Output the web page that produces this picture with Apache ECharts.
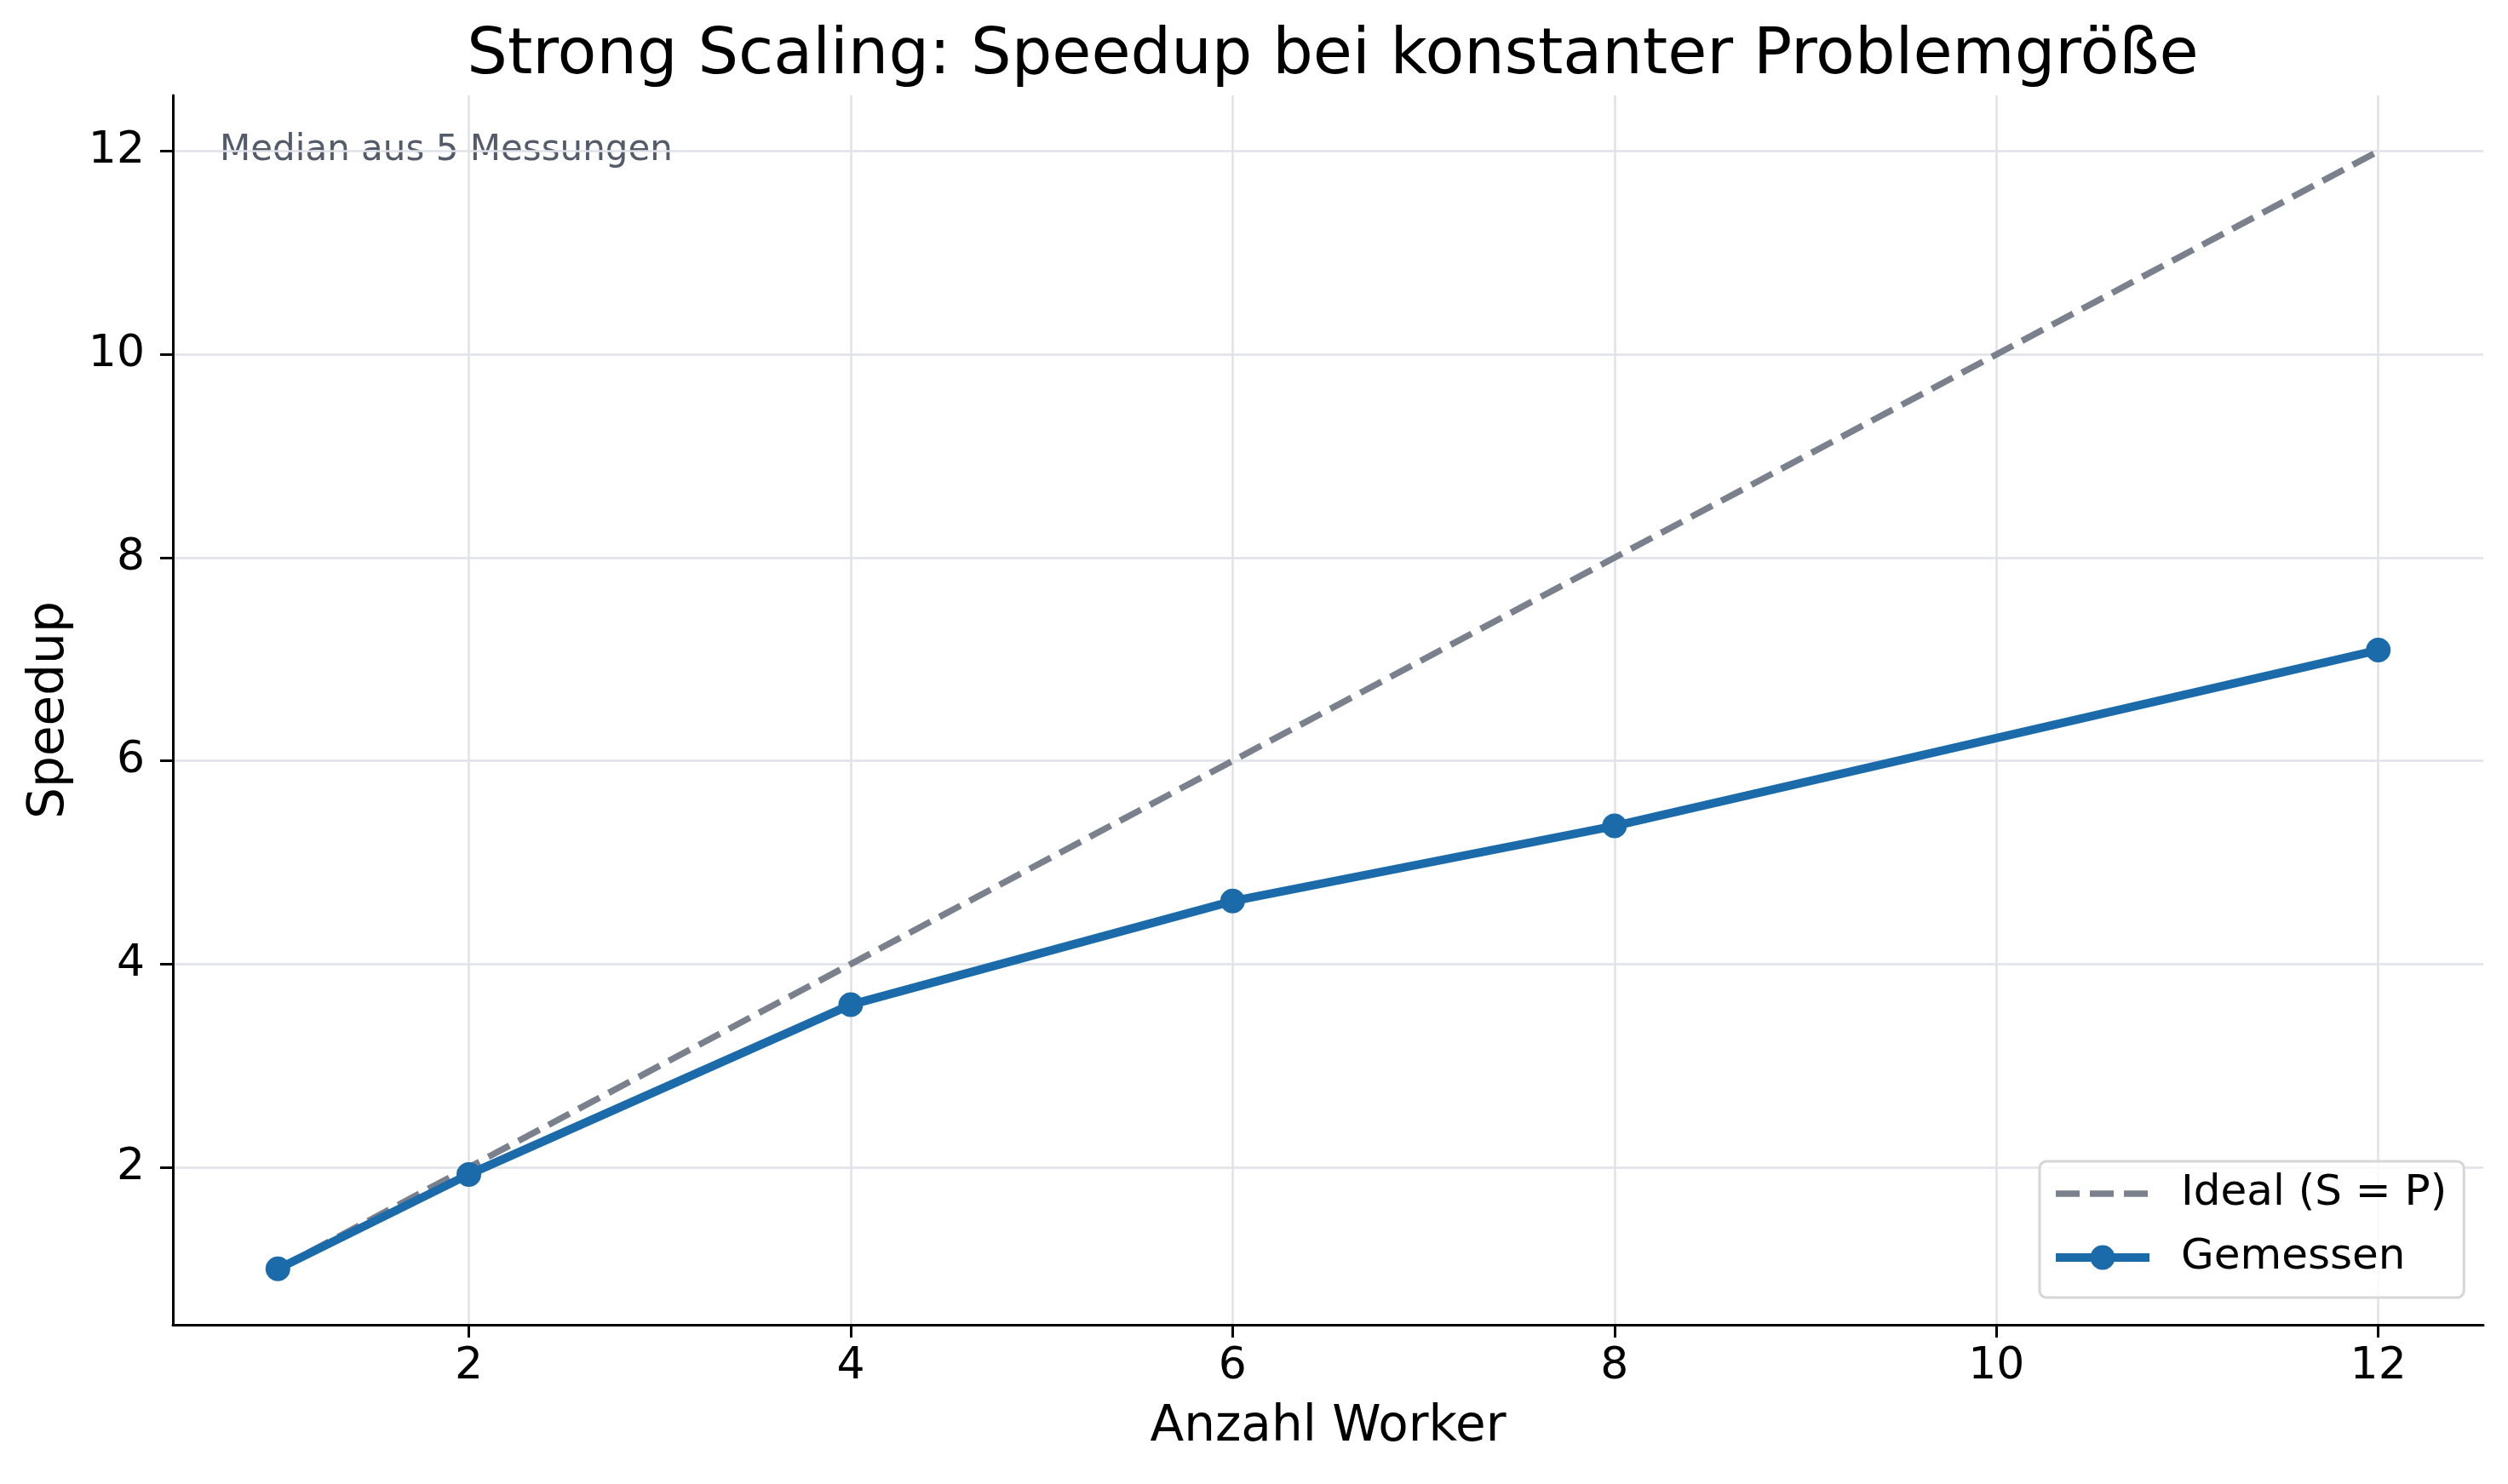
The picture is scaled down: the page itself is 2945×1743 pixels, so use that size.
<!DOCTYPE html>
<html>
<head>
<meta charset="utf-8">
<title>Strong Scaling</title>
<script src="https://cdn.jsdelivr.net/npm/echarts@6/dist/echarts.min.js"></script>
<style>
    html, body { margin: 0; padding: 0; background: #fff; }
    #chart { width: 2945px; height: 1743px; }
</style>
</head>
<body>
<div id="chart"></div>
<script>
// Data
var workers = [1, 2, 4, 6, 8, 12];
var idealSpeedup = [1, 2, 4, 6, 8, 12];
var measuredSpeedup = [1.0, 1.93, 3.6, 4.62, 5.36, 7.09];
var xTicks = [2, 4, 6, 8, 10, 12];
var yTicks = [2, 4, 6, 8, 10, 12];

var FONT = '"DejaVu Sans", Verdana, sans-serif';
var GRID_COLOR = '#dfe2ea';
var IDEAL_COLOR = '#7a808c';
var MEASURED_COLOR = '#1b6aa9';

function pairs(xs, ys) {
    return xs.map(function (x, i) { return [x, ys[i]]; });
}

var chart = echarts.init(document.getElementById('chart'));

chart.setOption({
    animation: false,
    backgroundColor: '#fff',
    textStyle: { fontFamily: FONT },

    title: {
        text: 'Strong Scaling: Speedup bei konstanter Problemgröße',
        left: 1560,
        top: 24,
        textAlign: 'center',
        textStyle: { fontFamily: FONT, fontSize: 75, fontWeight: 'normal', color: '#000' }
    },

    grid: { left: 203, right: 29, top: 112, bottom: 187, containLabel: false },

    legend: {
        orient: 'vertical',
        left: 2395,
        top: 1364,
        itemWidth: 110,
        itemHeight: 36,
        itemGap: 25,
        padding: [13, 20, 22, 14],
        backgroundColor: 'rgba(255,255,255,0.8)',
        borderColor: '#d6d6d6',
        borderWidth: 3,
        borderRadius: 8,
        lineStyle: { width: 'inherit' },
        data: [
            { name: 'Ideal (S = P)', itemStyle: { opacity: 0 }, lineStyle: { width: 7.5, type: [28, 12] } },
            { name: 'Gemessen', lineStyle: { width: 10 } }
        ],
        textStyle: {
            fontFamily: FONT,
            fontSize: 50,
            lineHeight: 50,
            color: '#000',
            padding: [0, 0, 0, 32]
        }
    },

    xAxis: {
        type: 'value',
        min: 0.45,
        max: 12.55,
        name: 'Anzahl Worker',
        nameLocation: 'middle',
        nameGap: 92,
        nameTextStyle: { fontFamily: FONT, fontSize: 58, color: '#000' },
        axisLine: { show: true, onZero: false, lineStyle: { color: '#000', width: 3 } },
        axisTick: { show: true, inside: false, length: 15, customValues: xTicks, lineStyle: { color: '#000', width: 3 } },
        axisLabel: { customValues: xTicks, margin: 23, fontFamily: FONT, fontSize: 52, color: '#000' },
        splitLine: { show: true, lineStyle: { color: GRID_COLOR, width: 2.5 } }
    },

    yAxis: {
        type: 'value',
        min: 0.45,
        max: 12.55,
        name: 'Speedup',
        nameLocation: 'middle',
        nameGap: 115,
        nameTextStyle: { fontFamily: FONT, fontSize: 58, color: '#000' },
        axisLine: { show: true, onZero: false, lineStyle: { color: '#000', width: 3 } },
        axisTick: { show: true, inside: false, length: 15, customValues: yTicks, lineStyle: { color: '#000', width: 3 } },
        axisLabel: { customValues: yTicks, margin: 33, fontFamily: FONT, fontSize: 52, color: '#000' },
        splitLine: { show: true, lineStyle: { color: GRID_COLOR, width: 2.5 } }
    },

    graphic: [{
        type: 'text',
        left: 258,
        top: 156,
        style: {
            text: 'Median aus 5 Messungen',
            fontFamily: FONT,
            fontSize: 42,
            fill: '#545b69'
        }
    }],

    series: [
        {
            name: 'Ideal (S = P)',
            type: 'line',
            data: pairs(workers, idealSpeedup),
            symbol: 'none',
            z: 2,
            itemStyle: { color: IDEAL_COLOR },
            lineStyle: { color: IDEAL_COLOR, width: 7.5, type: [28, 12], cap: 'butt' }
        },
        {
            name: 'Gemessen',
            type: 'line',
            data: pairs(workers, measuredSpeedup),
            symbol: 'circle',
            symbolSize: 29,
            z: 3,
            itemStyle: { color: MEASURED_COLOR },
            lineStyle: { color: MEASURED_COLOR, width: 10 }
        }
    ]
});

window.addEventListener('resize', function () {
    chart.resize();
});
</script>
</body>
</html>
